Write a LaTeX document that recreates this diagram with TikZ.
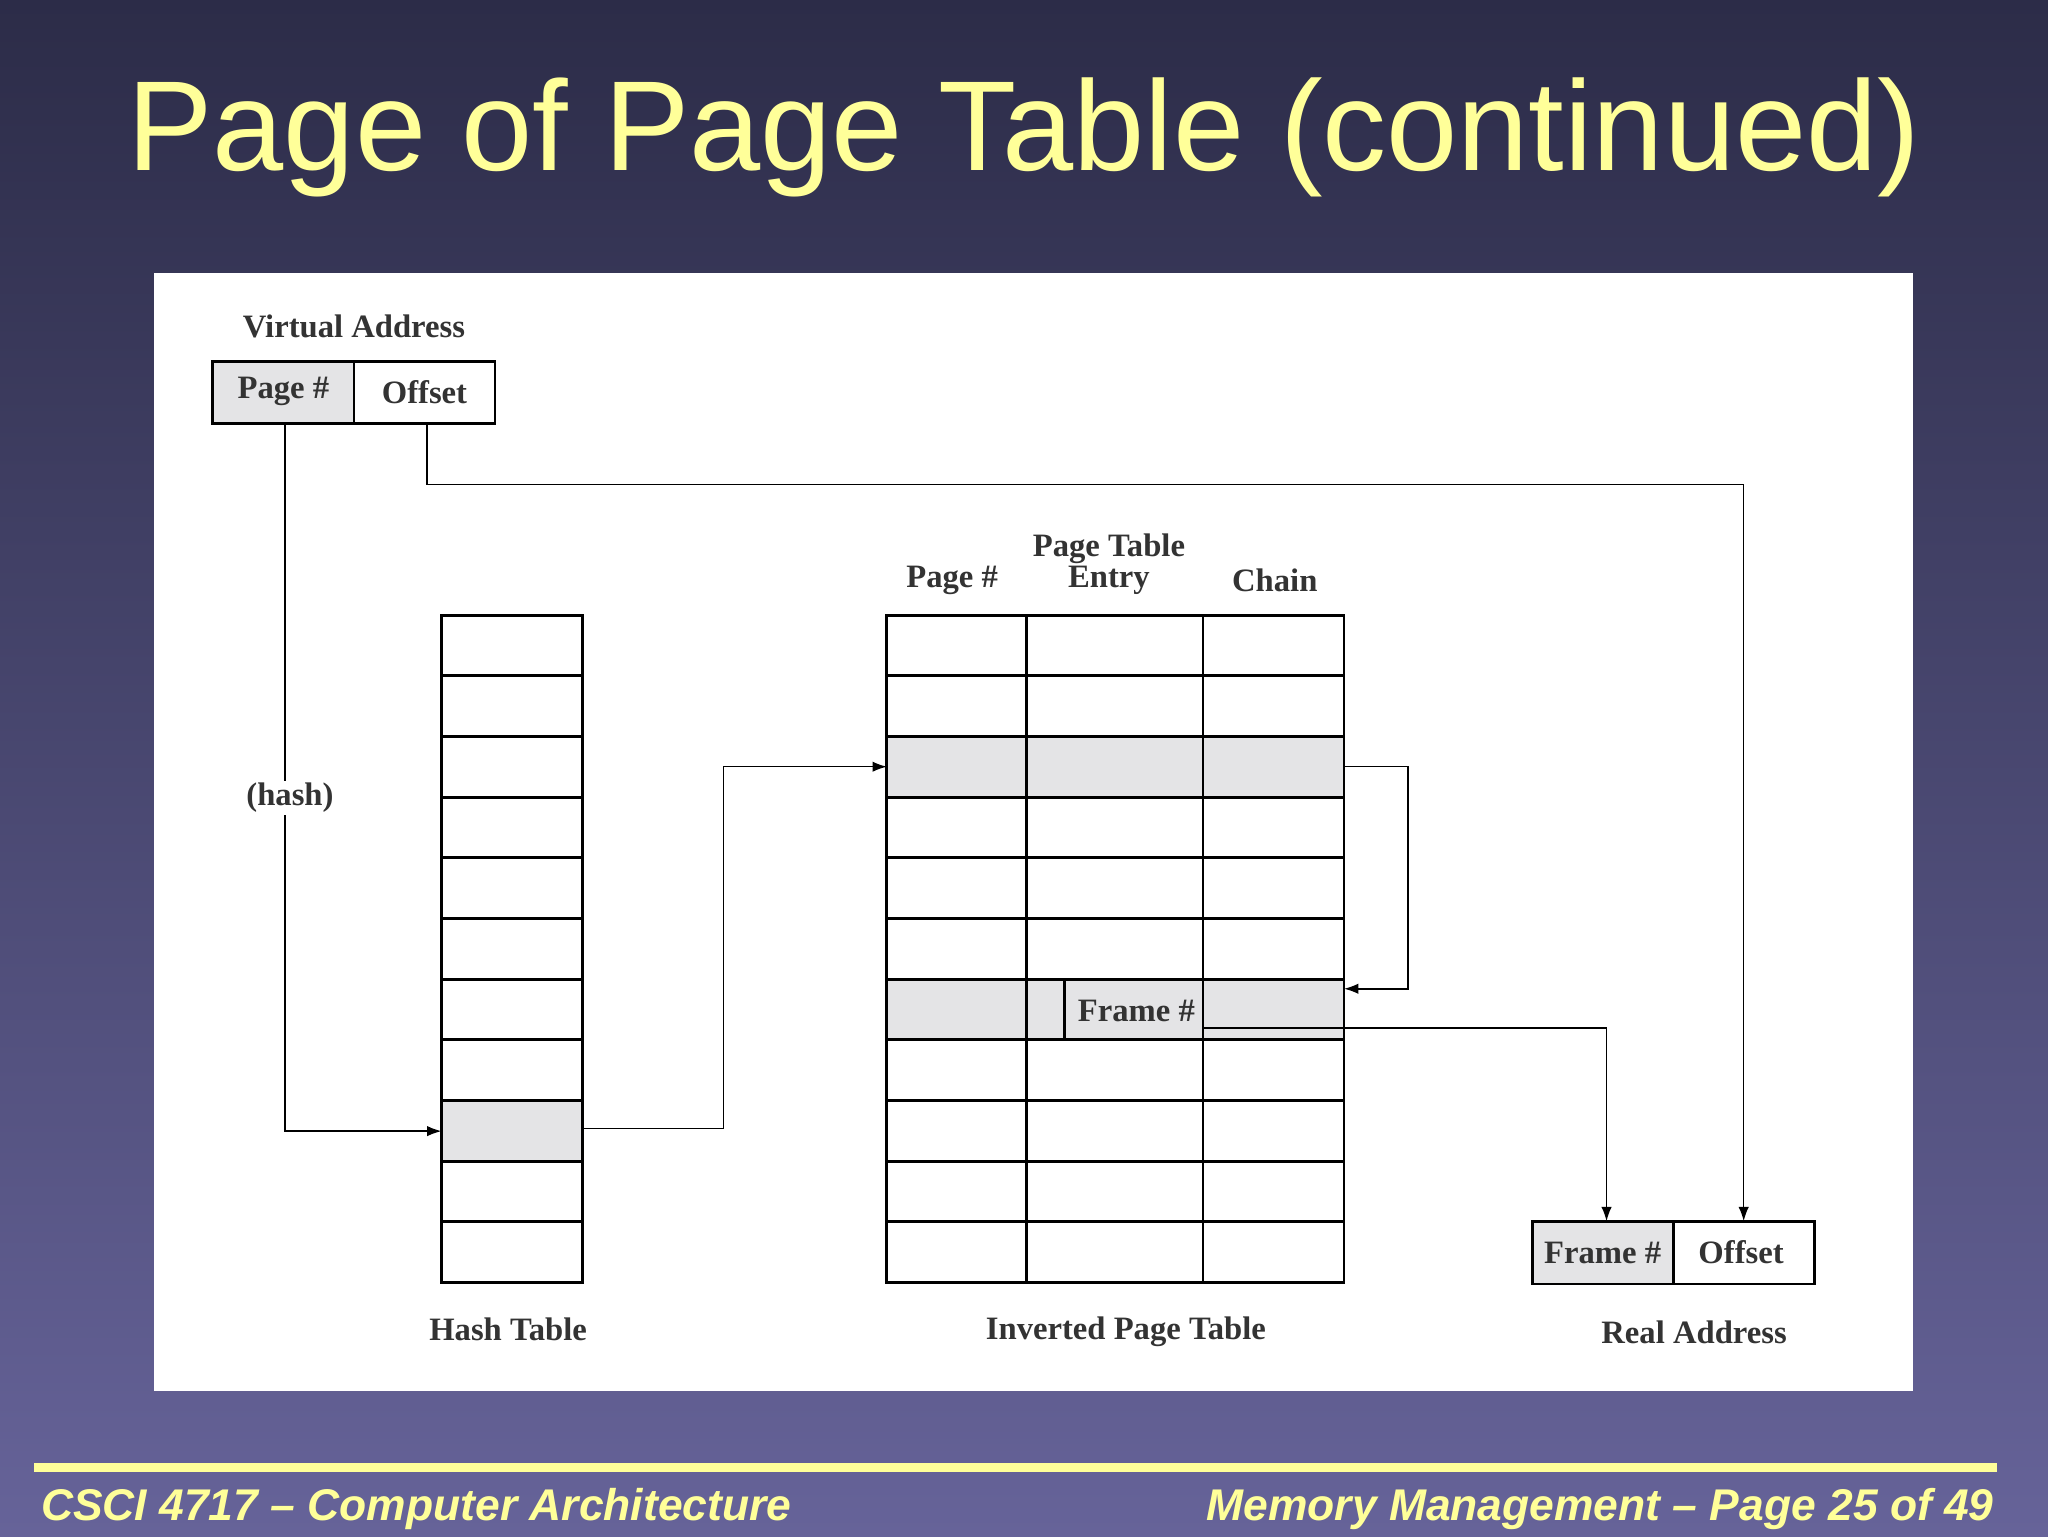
\documentclass[tikz,border=0pt]{standalone}
\usepackage{fontspec}
\setmainfont{Liberation Serif}
\newfontfamily\sansf{Liberation Sans}
\usetikzlibrary{arrows.meta}
\definecolor{bgtop}{HTML}{2C2C48}
\definecolor{bgbot}{HTML}{666399}
\definecolor{ttl}{HTML}{FFFF99}
\definecolor{cellg}{HTML}{E4E4E6}
\begin{document}
\begin{tikzpicture}[x=1pt,y=-1pt,
  cell/.style={draw=black,line width=2.2pt,minimum width=0pt},
  lab/.style={font=\fontsize{25}{28}\selectfont\bfseries\color{black!80}},
  conn/.style={draw=black,line width=1.2pt},
  arr/.style={conn,-{Latex[length=11pt,width=8pt]}}]
\useasboundingbox (0,0) rectangle (1568,1176);
\shade[top color=bgtop,bottom color=bgbot] (0,0) rectangle (1568,1176);
\node (title) at (784,105) {\sansf\fontsize{98}{110}\selectfont\color{ttl}Page of Page Table (continued)};
\fill[white] (118,209) rectangle (1465,1065);
\fill[ttl] (26,1120) rectangle (1529,1127);
\node[anchor=west] (fl) at (28,1155) {\sansf\fontsize{34}{38}\selectfont\bfseries\itshape\color{ttl}CSCI 4717 – Computer Architecture};
\node[anchor=east] (fr) at (1530,1155) {\sansf\fontsize{34}{38}\selectfont\bfseries\itshape\color{ttl}Memory Management – Page 25 of 49};
% virtual address
\node[lab] (vlab) at (271,250) {Virtual Address};
\filldraw[cell,fill=cellg] (163,277) rectangle (271,324);
\draw[cell] (271,277) rectangle (379,324);
\node[lab] (vp) at (217,300) {Page \#};
\node[lab] (vo) at (325,300) {Offset};
\coordinate (vpb) at (218,324);
\coordinate (vob) at (327,324);
% hash table
\fill[cellg] (338,843) rectangle (446,889);
\foreach \i in {0,...,10}{
  \draw[cell] (338,{471+46.45*\i}) rectangle (446,{471+46.45*(\i+1)});}
\coordinate (hl) at (338,866);
\coordinate (hr) at (446,864);
\node[lab] (hlab) at (389,1018) {Hash Table};
% inverted page table
\fill[cellg] (679,564) rectangle (1029,610);
\fill[cellg] (679,750) rectangle (1029,796);
\foreach \i in {0,...,10}{
  \foreach \a/\b in {679/786,786/921,921/1029}{
  \draw[cell] (\a,{471+46.45*\i}) rectangle (\b,{471+46.45*(\i+1)});}}
\draw[line width=2.2pt] (815,750) -- (815,796);
\node[lab] (fr7) at (870,774) {Frame \#};
\node[lab] (h1) at (729,444) {Page \#};
\node[lab,align=center] (h2) at (849,432) {Page Table\\[-4pt]Entry};
\node[lab] (h3) at (976,444) {Chain};
\node[lab] (ilab) at (862,1020) {Inverted Page Table};
\coordinate (r3l) at (679,587);
\coordinate (r3r) at (1029,587);
\coordinate (r7r) at (1029,757);
\coordinate (r7o) at (921,787);
% real address
\filldraw[cell,fill=cellg] (1173,935) rectangle (1281,983);
\draw[cell] (1281,935) rectangle (1389,983);
\node[lab] (rf) at (1227,959) {Frame \#};
\node[lab] (ro) at (1333,959) {Offset};
\node[lab] (rlab) at (1297,1020) {Real Address};
\coordinate (rft) at (1230,935);
\coordinate (rot) at (1335,935);
% connectors
\draw[arr] (vpb) |- (hl);
\node[lab,fill=white,inner sep=2pt] (hash) at (222,611) {(hash)};
\draw[arr] (vob) -- (327,371) -| (rot);
\draw[arr] (hr) -- (554,864) |- (r3l);
\draw[arr] (r3r) -- (1078,587) |- (r7r);
\draw[arr] (r7o) -| (rft);
\end{tikzpicture}
\end{document}
